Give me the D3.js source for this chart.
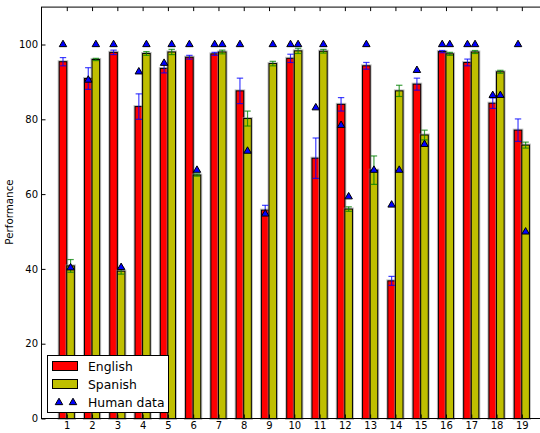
<!DOCTYPE html>
<html>
<head>
<meta charset="utf-8">
<script src="https://cdn.jsdelivr.net/npm/d3@7"></script>
<style>
  html, body { margin: 0; padding: 0; background: #fff; }
  svg { display: block; font-family: "DejaVu Sans", sans-serif; }
</style>
</head>
<body>
<svg id="chart" width="540" height="433"></svg>
<script>
const categories = [1,2,3,4,5,6,7,8,9,10,11,12,13,14,15,16,17,18,19];
const english    = [95.4, 90.9, 97.9, 83.4, 93.6, 96.6, 97.5, 87.6, 55.7, 96.3, 69.6, 84.0, 94.3, 36.8, 89.4, 98.1, 95.2, 84.3, 77.1];
const englishErr = [1.1, 2.9, 0.6, 3.4, 1.2, 0.5, 0.4, 3.4, 1.3, 1.1, 5.4, 1.8, 0.9, 1.2, 1.6, 0.3, 0.9, 1.4, 3.0];
const spanish    = [40.8, 96.0, 39.4, 97.6, 98.0, 65.1, 98.0, 80.2, 94.9, 98.3, 98.2, 56.0, 66.4, 87.6, 75.8, 97.5, 98.0, 92.7, 73.1];
const spanishErr = [1.7, 0.3, 0.8, 0.5, 0.7, 0.3, 0.5, 2.0, 0.6, 0.7, 0.5, 0.6, 3.8, 1.5, 1.3, 0.4, 0.4, 0.4, 0.8];
const humanEnglish = [100, 90.5, 100, 92.7, 95.0, 100, 100, 100, 54.7, 100, 83.1, 78.4, 100, 57.1, 93.1, 100, 100, 86.4, 100];
const humanSpanish = [40.3, 100, 40.4, 100, 100, 66.4, 100, 71.5, 100, 100, 100, 59.3, 66.4, 66.4, 73.3, 100, 100, 86.4, 49.9];
const yTicks = [0, 20, 40, 60, 80, 100];
const seriesNames = ["English", "Spanish", "Human data"];

const barW = 0.3;
const svg = d3.select("#chart");
const x = d3.scaleLinear().domain([0, 20]).range([41.5, 547.1]);
const y = d3.scaleLinear().domain([0, 110]).range([418.5, 7.1]);

svg.append("rect").attr("width", 540).attr("height", 433).attr("fill", "#fff");

const plot = svg.append("g");

function drawBars(vals, offset, fill) {
  const g = plot.append("g");
  g.selectAll("rect.sh").data(vals).enter().append("rect")
    .attr("x", (d, i) => x(categories[i] + offset))
    .attr("y", d => y(d))
    .attr("width", x(barW) - x(0))
    .attr("height", d => y(0) - y(d))
    .attr("fill", "none")
    .attr("stroke", "#8a8a8a")
    .attr("stroke-width", 3)
    .attr("stroke-opacity", 0.55);
  g.selectAll("rect.bar").data(vals).enter().append("rect")
    .attr("x", (d, i) => x(categories[i] + offset))
    .attr("y", d => y(d))
    .attr("width", x(barW) - x(0))
    .attr("height", d => y(0) - y(d))
    .attr("fill", fill)
    .attr("stroke", "#000")
    .attr("stroke-width", 1);
  return g;
}

function drawErr(vals, errs, offset, color) {
  const g = plot.append("g").attr("stroke", color).attr("stroke-opacity", 0.75).attr("stroke-width", 1.2);
  vals.forEach((v, i) => {
    const cx = x(categories[i] + offset + barW / 2);
    const y1 = y(v + errs[i]), y2 = y(v - errs[i]);
    g.append("line").attr("x1", cx).attr("x2", cx).attr("y1", y1).attr("y2", y2);
    g.append("line").attr("x1", cx - 3.2).attr("x2", cx + 3.2).attr("y1", y1).attr("y2", y1);
    g.append("line").attr("x1", cx - 3.2).attr("x2", cx + 3.2).attr("y1", y2).attr("y2", y2);
  });
}

drawBars(english, -barW, "#ff0000");
drawBars(spanish, 0, "#bfbf00");
drawErr(english, englishErr, -barW, "#0000ff");
drawErr(spanish, spanishErr, 0, "#008000");

const tri = d3.symbol().type(d3.symbolTriangle).size(24);
function drawHuman(vals, offset) {
  plot.append("g").selectAll("path").data(vals).enter().append("path")
    .attr("d", tri)
    .attr("transform", (d, i) => `translate(${x(categories[i] + offset)},${y(d)})`)
    .attr("fill", "#0000ff")
    .attr("stroke", "#000")
    .attr("stroke-width", 1);
}
drawHuman(humanEnglish, -barW / 2);
drawHuman(humanSpanish, barW / 2);

// frame
svg.append("rect")
  .attr("x", x(0)).attr("y", y(110))
  .attr("width", x(20) - x(0)).attr("height", y(0) - y(110))
  .attr("fill", "none").attr("stroke", "#000").attr("stroke-width", 1);

// axes
const fontSize = 10;
const axLeft = svg.append("g").attr("transform", `translate(${x(0)},0)`)
  .call(d3.axisLeft(y).tickValues(yTicks).tickSize(-4).tickPadding(3.5).tickFormat(d3.format("d")));
const axBottom = svg.append("g").attr("transform", `translate(0,${y(0)})`)
  .call(d3.axisBottom(x).tickValues(categories).tickSize(-4).tickPadding(3.5).tickFormat(d3.format("d")));
const axTop = svg.append("g").attr("transform", `translate(0,${y(110)})`)
  .call(d3.axisTop(x).tickValues(categories).tickSize(-4).tickFormat(""));
[axLeft, axBottom, axTop].forEach(g => {
  g.select(".domain").remove();
  g.selectAll("text").attr("font-size", fontSize).attr("font-family", "DejaVu Sans").attr("fill", "#000");
  g.selectAll("line").attr("stroke", "#000");
});

// y label
svg.append("text")
  .attr("transform", "translate(13,212) rotate(-90)")
  .attr("text-anchor", "middle")
  .attr("font-size", 10.3)
  .attr("fill", "#000")
  .text("Performance");

// legend
const lg = svg.append("g");
lg.append("rect").attr("x", 47.5).attr("y", 355.5).attr("width", 121).attr("height", 57)
  .attr("fill", "#fff").attr("stroke", "#000").attr("stroke-width", 1);
lg.append("rect").attr("x", 52.5).attr("y", 361.5).attr("width", 25).attr("height", 9)
  .attr("fill", "#ff0000").attr("stroke", "#000");
lg.append("rect").attr("x", 52.5).attr("y", 379.5).attr("width", 25).attr("height", 9)
  .attr("fill", "#bfbf00").attr("stroke", "#000");
[59, 73].forEach(px => {
  lg.append("path").attr("d", tri).attr("transform", `translate(${px},402.5)`)
    .attr("fill", "#0000ff").attr("stroke", "#000").attr("stroke-width", 1);
});
[370.5, 388.5, 406.5].forEach((by, i) => {
  lg.append("text").attr("x", 88).attr("y", by).attr("font-size", 12.4).attr("fill", "#000").text(seriesNames[i]);
});
</script>
</body>
</html>
